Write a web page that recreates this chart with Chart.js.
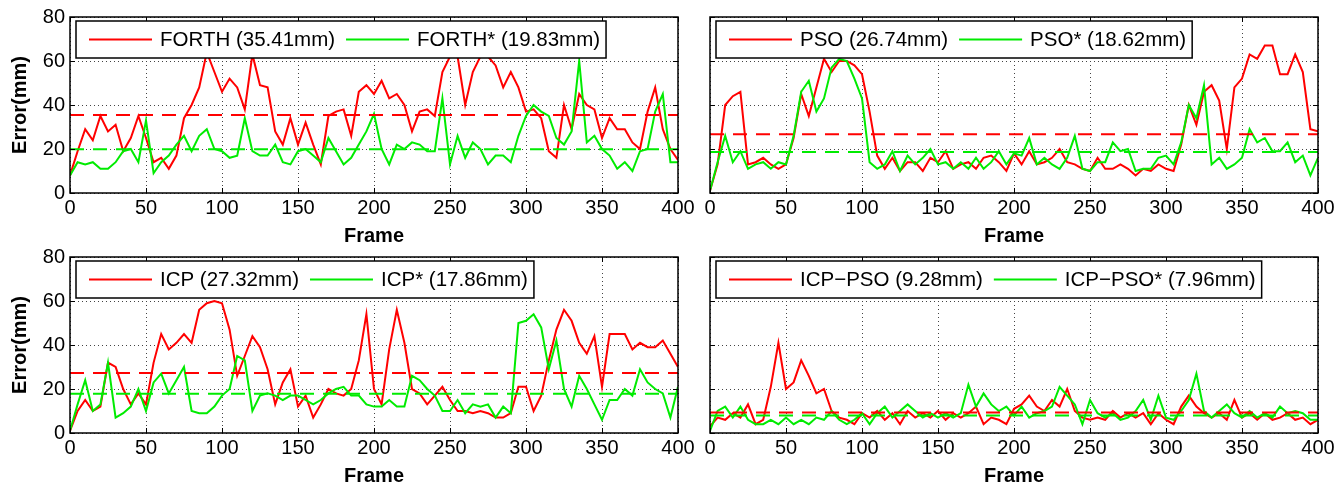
<!DOCTYPE html>
<html>
<head>
<meta charset="utf-8">
<script src="https://cdn.jsdelivr.net/npm/chart.js@4"></script>
<style>
  html, body { margin: 0; padding: 0; background: #fff; overflow: hidden; }
  .panel { position: absolute; }
</style>
</head>
<body>
<div class="panel" style="left:0;top:0"><canvas id="c0" width="703" height="248"></canvas></div>
<div class="panel" style="left:700px;top:0"><canvas id="c1" width="643" height="248"></canvas></div>
<div class="panel" style="left:0;top:240px"><canvas id="c2" width="703" height="248"></canvas></div>
<div class="panel" style="left:700px;top:240px"><canvas id="c3" width="643" height="248"></canvas></div>
<script>
// frame numbers (every 5th frame)
const frames = [0,5,10,15,20,25,30,35,40,45,50,55,60,65,70,75,80,85,90,95,
  100,105,110,115,120,125,130,135,140,145,150,155,160,165,170,175,180,185,190,195,
  200,205,210,215,220,225,230,235,240,245,250,255,260,265,270,275,280,285,290,295,
  300,305,310,315,320,325,330,335,340,345,350,355,360,365,370,375,380,385,390,395,400];
const meanFrames = [0, 400];

// error in mm
const forthRed = [8,19,29,24,35,28,31,19,25,35,
  25,14,16,11,17,34,40,48,64,55,
  46,52,48,38,63,49,48,28,22,34,
  22,32,22,13,35,37,38,26,46,49,
  45,51,43,45,40,28,37,38,35,55,
  62,62,40,55,62,62,58,48,55,48,
  37,38,34,19,16,40,29,45,40,38,
  25,34,29,29,23,20,37,48,29,20,15];
const forthGreen = [8,14,13,14,11,11,14,19,20,14,
  33,9,14,17,22,26,19,26,29,20,
  19,16,17,34,19,17,17,22,14,13,
  19,20,17,14,25,19,13,16,22,28,
  36,20,13,22,20,23,22,19,19,43,
  13,26,16,23,20,13,17,17,14,26,
  35,40,37,35,25,22,28,60,23,26,
  20,17,11,14,10,19,20,37,45,14,14];
const psoRed = [1,13,40,44,46,13,14,16,13,11,
  13,25,45,35,48,61,55,60,60,58,
  54,37,17,11,16,10,14,14,10,16,
  14,19,11,13,14,11,16,17,14,10,
  18,13,19,13,14,16,20,14,13,11,
  10,16,11,11,13,11,8,11,10,13,
  11,10,22,40,31,46,49,42,20,48,
  52,63,61,67,67,54,54,63,55,29,28];
const psoGreen = [1,14,26,14,19,11,13,14,11,14,
  13,26,46,51,37,43,57,61,60,52,
  43,14,11,13,19,10,17,13,16,20,
  13,14,11,14,11,16,11,14,19,13,
  18,17,25,13,16,13,11,16,26,11,
  10,14,14,23,19,20,10,11,11,16,
  17,13,23,40,34,49,13,16,11,13,
  16,29,23,25,19,19,23,14,17,8,16];
const icpRed = [1,10,15,10,12,32,30,20,13,18,
  13,32,45,38,41,45,41,56,59,60,
  59,47,26,35,44,39,29,13,23,29,
  12,17,7,13,20,18,17,20,33,54,
  20,13,38,56,41,20,18,13,17,21,
  15,10,10,9,10,9,7,7,9,21,
  21,10,17,33,47,56,51,41,36,44,
  21,45,45,45,38,41,39,39,42,36,30];
const icpGreen = [1,13,24,10,13,32,7,9,12,20,
  10,23,27,18,24,30,10,9,9,12,
  17,20,35,33,10,17,18,17,15,17,
  17,15,13,15,18,20,21,17,17,13,
  12,12,15,12,12,26,24,20,17,10,
  10,15,9,13,12,13,7,12,9,50,
  51,54,48,29,42,20,12,26,20,13,
  6,15,15,20,17,29,23,20,18,7,21];
const icpPsoRed = [3,7,6,9,7,13,4,6,21,41,
  20,23,33,26,18,20,10,7,6,4,
  9,7,10,6,9,4,10,7,9,7,
  10,6,9,7,9,12,4,7,6,4,
  11,13,17,12,10,15,12,20,10,7,
  6,7,6,10,7,9,7,9,4,9,
  6,4,12,17,12,9,7,9,6,15,
  7,9,6,9,6,7,9,6,7,4,6];
const icpPsoGreen = [1,10,12,7,12,6,4,4,6,4,
  7,4,6,4,7,6,10,6,4,6,
  9,4,9,12,7,10,13,10,7,9,
  7,9,7,9,22,12,18,13,10,12,
  8,12,7,9,10,12,21,17,13,4,
  15,9,7,9,6,7,10,15,6,17,
  7,6,10,15,27,10,7,10,13,9,
  7,10,7,9,7,12,9,10,9,6,6];

const redSeries = [forthRed, psoRed, icpRed, icpPsoRed];
const greenSeries = [forthGreen, psoGreen, icpGreen, icpPsoGreen];
const redMeans = [35.41, 26.74, 27.32, 9.28];
const greenMeans = [19.83, 18.62, 17.86, 7.96];
const redLabels = ['FORTH (35.41mm)', 'PSO (26.74mm)', 'ICP (27.32mm)', 'ICP\u2212PSO (9.28mm)'];
const greenLabels = ['FORTH* (19.83mm)', 'PSO* (18.62mm)', 'ICP* (17.86mm)', 'ICP\u2212PSO* (7.96mm)'];

const RED = 'rgb(255,0,0)';
const GREEN = 'rgb(0,235,0)';
const FONT = "'Liberation Sans', Arial, sans-serif";
Chart.defaults.font.family = FONT;
Chart.defaults.color = '#000';

// box around the axes, inward ticks and the legend drawn inside the plot
const boxLegend = {
  id: 'boxLegend',
  afterDatasetsDraw(chart, args, opts) {
    const {ctx, chartArea: a, scales} = chart;
    ctx.save();
    ctx.setLineDash([]);
    ctx.strokeStyle = '#000';
    ctx.lineWidth = 1;
    ctx.beginPath();
    scales.x.ticks.forEach(t => {
      const px = Math.round(scales.x.getPixelForValue(t.value)) + 0.5;
      ctx.moveTo(px, a.bottom); ctx.lineTo(px, a.bottom - 5);
      ctx.moveTo(px, a.top); ctx.lineTo(px, a.top + 5);
    });
    scales.y.ticks.forEach(t => {
      const py = Math.round(scales.y.getPixelForValue(t.value)) + 0.5;
      ctx.moveTo(a.left, py); ctx.lineTo(a.left + 5, py);
      ctx.moveTo(a.right, py); ctx.lineTo(a.right - 5, py);
    });
    ctx.stroke();

    ctx.font = '20.5px ' + FONT;
    const items = opts.items;
    const bx = a.left + 6, by = a.top + 4, bh = 37, cy = by + bh / 2;
    let w = 13;
    items.forEach((it, i) => {
      w += 63 + 8 + ctx.measureText(it.text).width + (i < items.length - 1 ? 11 : 6);
    });
    ctx.fillStyle = '#fff';
    ctx.fillRect(bx, by, w, bh);
    ctx.lineWidth = 1.5;
    ctx.strokeRect(bx, by, w, bh);
    let cx = bx + 13;
    items.forEach(it => {
      ctx.strokeStyle = it.color;
      ctx.lineWidth = 2;
      ctx.beginPath();
      ctx.moveTo(cx, cy); ctx.lineTo(cx + 63, cy);
      ctx.stroke();
      cx += 63 + 8;
      ctx.fillStyle = '#000';
      ctx.textBaseline = 'middle';
      ctx.fillText(it.text, cx, cy + 1);
      cx += ctx.measureText(it.text).width + 11;
    });

    ctx.strokeStyle = '#000';
    ctx.lineWidth = 1.5;
    ctx.strokeRect(a.left, a.top, a.width, a.height);
    ctx.restore();
  }
};

function pts(vals) { return frames.map((f, i) => ({x: f, y: vals[i]})); }
function meanPts(v) { return meanFrames.map(f => ({x: f, y: v})); }

for (let k = 0; k < 4; k++) {
  const leftPanel = k % 2 === 0;
  new Chart(document.getElementById('c' + k), {
    type: 'line',
    data: {
      datasets: [
        {data: meanPts(greenMeans[k]), borderColor: GREEN, borderDash: [14, 9]},
        {data: meanPts(redMeans[k]), borderColor: RED, borderDash: [14, 9]},
        {data: pts(greenSeries[k]), borderColor: GREEN},
        {data: pts(redSeries[k]), borderColor: RED}
      ]
    },
    plugins: [boxLegend],
    options: {
      responsive: false,
      animation: false,
      layout: {padding: {top: 17, right: 25, left: 0, bottom: 0}},
      elements: {
        line: {borderWidth: 2, tension: 0, fill: false},
        point: {radius: 0}
      },
      plugins: {
        legend: {display: false},
        tooltip: {enabled: false},
        boxLegend: {items: [
          {text: redLabels[k], color: RED},
          {text: greenLabels[k], color: GREEN}
        ]}
      },
      scales: {
        x: {
          type: 'linear', min: 0, max: 400,
          ticks: {stepSize: 50, font: {size: 20}, padding: 3, maxRotation: 0, autoSkip: false},
          grid: {color: '#444', drawTicks: false},
          border: {display: false, dash: [1, 3]},
          title: {display: true, text: 'Frame', font: {size: 20, weight: 'bold'}, padding: 0},
          afterFit: s => { s.height = 55; }
        },
        y: {
          min: 0, max: 80,
          ticks: {stepSize: 20, display: leftPanel, font: {size: 20}, padding: 5},
          grid: {color: '#444', drawTicks: false},
          border: {display: false, dash: [1, 3]},
          title: {display: leftPanel, text: 'Error(mm)', font: {size: 20, weight: 'bold'}, padding: {top: 8}},
          afterFit: s => { s.width = leftPanel ? 70 : 10; }
        }
      }
    }
  });
}
</script>
</body>
</html>
